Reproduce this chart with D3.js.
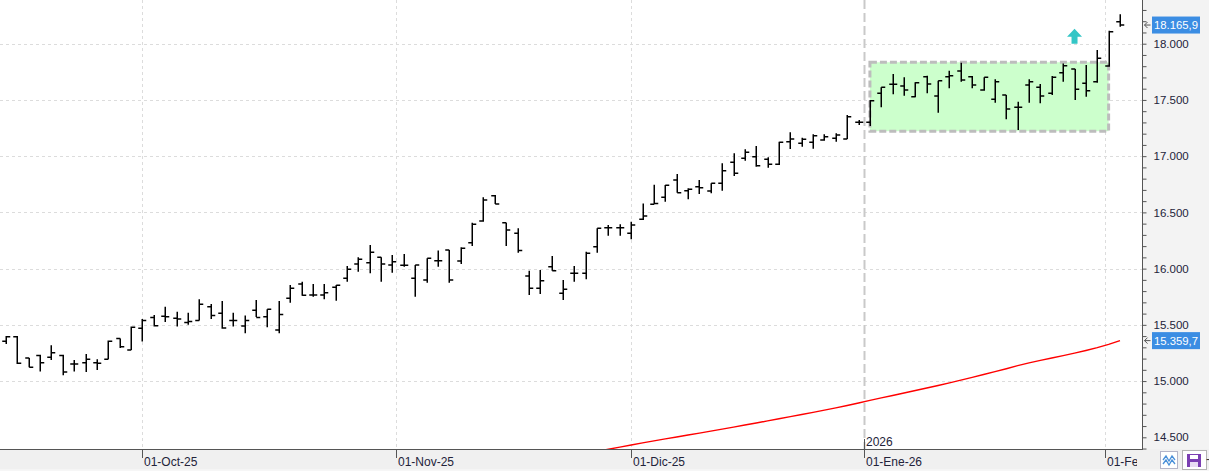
<!DOCTYPE html>
<html>
<head>
<meta charset="utf-8">
<script src="https://cdn.jsdelivr.net/npm/d3@7"></script>
<style>
    html, body { margin: 0; padding: 0; background: #fff; overflow: hidden; }
    svg { display: block; font-family: "Liberation Sans", Arial, sans-serif; }
</style>
</head>
<body>
<svg id="chart"></svg>
<script>
    'use strict';

    // daily sessions shown on the chart
    const dates = [
        '2025-09-15','2025-09-16','2025-09-17','2025-09-18','2025-09-19','2025-09-22','2025-09-23','2025-09-24','2025-09-25','2025-09-26',
        '2025-09-29','2025-09-30','2025-10-01','2025-10-02','2025-10-03','2025-10-06','2025-10-07','2025-10-08','2025-10-09','2025-10-10',
        '2025-10-13','2025-10-14','2025-10-15','2025-10-16','2025-10-17','2025-10-20','2025-10-21','2025-10-22','2025-10-23','2025-10-24',
        '2025-10-27','2025-10-28','2025-10-29','2025-10-30','2025-10-31','2025-11-03','2025-11-04','2025-11-05','2025-11-06','2025-11-07',
        '2025-11-10','2025-11-11','2025-11-12','2025-11-13','2025-11-14','2025-11-17','2025-11-18','2025-11-19','2025-11-20','2025-11-21',
        '2025-11-24','2025-11-25','2025-11-26','2025-11-27','2025-11-28','2025-12-01','2025-12-02','2025-12-03','2025-12-04','2025-12-05',
        '2025-12-08','2025-12-09','2025-12-10','2025-12-11','2025-12-12','2025-12-15','2025-12-16','2025-12-17','2025-12-18','2025-12-19',
        '2025-12-22','2025-12-23','2025-12-24','2025-12-29','2025-12-30','2025-12-31','2026-01-02','2026-01-05','2026-01-06','2026-01-07',
        '2026-01-08','2026-01-09','2026-01-12','2026-01-13','2026-01-14','2026-01-15','2026-01-16','2026-01-19','2026-01-20','2026-01-21',
        '2026-01-22','2026-01-23','2026-01-26','2026-01-27','2026-01-28','2026-01-29','2026-01-30','2026-02-02','2026-02-03'
    ];

    const opens = [
        15354,15395,15205,15228,15211,15228,15152,15163,15163,15193,
        15378,15276,15470,15565,15577,15559,15521,15539,15660,15604,
        15539,15490,15630,15571,15454,15737,15863,15765,15765,15834,
        15914,16041,16053,16101,16032,16029,15914,15899,16071,16165,
        16068,16231,16423,16648,16408,16314,15934,15825,16017,15781,
        15959,15959,16195,16364,16364,16314,16438,16572,16634,16788,
        16693,16728,16690,16759,16946,16981,16995,16972,16928,17129,
        17114,17123,17144,17159,17153,17301,17301,17559,17639,17624,
        17529,17707,17535,17707,17757,17707,17588,17506,17544,17434,
        17633,17612,17559,17742,17775,17648,17662,17802,18196
    ];

    const highs = [
        15401,15400,15205,15234,15318,15234,15187,15240,15193,15360,
        15378,15485,15551,15588,15660,15617,15608,15727,15686,15712,
        15608,15584,15721,15638,15712,15855,15884,15863,15863,15855,
        16023,16101,16210,16101,16122,16130,16032,16092,16160,16165,
        16190,16408,16634,16655,16408,16358,15982,15988,16112,15899,
        16023,16151,16358,16388,16394,16417,16580,16746,16744,16841,
        16714,16788,16759,16936,17025,17061,17090,16990,17129,17212,
        17164,17194,17194,17203,17366,17322,17499,17612,17731,17701,
        17657,17715,17671,17760,17831,17713,17701,17683,17544,17484,
        17683,17642,17713,17825,17775,17811,17944,18116,18261
    ];

    const lows = [
        15330,15152,15122,15086,15187,15051,15086,15081,15098,15193,
        15294,15276,15352,15485,15526,15485,15500,15539,15551,15465,
        15485,15425,15570,15479,15425,15697,15759,15750,15727,15714,
        15884,15973,15958,15884,15964,16017,15750,15875,16017,15875,
        16041,16201,16417,16575,16201,16142,15765,15774,15982,15721,
        15884,15905,16142,16293,16293,16261,16432,16572,16595,16675,
        16616,16664,16670,16693,16824,16960,16906,16897,16922,17064,
        17084,17066,17137,17129,17153,17277,17268,17434,17551,17538,
        17523,17559,17386,17603,17662,17603,17582,17475,17328,17233,
        17475,17470,17544,17662,17499,17529,17653,17795,18151
    ];

    const closes = [
        15395,15158,15122,15163,15252,15081,15152,15193,15158,15354,
        15306,15479,15539,15491,15571,15551,15530,15683,15583,15471,
        15539,15539,15565,15638,15591,15825,15763,15765,15786,15852,
        15994,16083,16146,16041,16061,16029,16032,16092,16071,15899,
        16181,16394,16610,16575,16344,16160,15825,15893,15982,15816,
        15959,16136,16358,16364,16364,16388,16468,16580,16741,16675,
        16705,16720,16759,16871,16848,17034,16915,16928,17123,17153,
        17150,17182,17173,17188,17351,17301,17493,17612,17639,17588,
        17653,17642,17671,17715,17677,17633,17701,17662,17419,17434,
        17662,17535,17701,17805,17594,17582,17870,18107,18165.9
    ];

    // moving average, only the visible part (starts at session index 52)
    const maStart = 52;
    const maValues = [
        14375,14394,14413,14432,14450,14468,14486,14503,14520,14537,
        14555,14573,14591,14609,14627,14646,14665,14684,14703,14722,
        14742,14762,14783,14805,14828,14850,14872,14894,14916,14938,
        14961,14984,15008,15033,15058,15084,15110,15137,15162,15184,
        15205,15226,15248,15272,15297,15326,15359.7
    ];

    // consolidation zone (session indexes and price bounds)
    const zoneSessions = [76, 97];
    const zonePrices = [17222, 17835];

    // buy signal arrow
    const signalSession = 94;
    const signalPrice = 18000;

    const shortMonths = ['Ene','Feb','Mar','Abr','May','Jun','Jul','Ago','Sep','Oct','Nov','Dic'];

    var width = 1209;
    var height = 471;
    var plotRight = 1142;
    var plotBottom = 449;

    var locale = d3.formatLocale({decimal: ',', thousands: '.', grouping: [3], currency: ['', ' €']});
    var fmtAxis = locale.format(',.0f');
    var fmtPrice = locale.format(',.1f');
    var timeLocale = d3.timeFormatLocale({
        dateTime: '%A, %e de %B de %Y, %X', date: '%d/%m/%Y', time: '%H:%M:%S',
        periods: ['AM', 'PM'],
        days: ['domingo','lunes','martes','miércoles','jueves','viernes','sábado'],
        shortDays: ['dom','lun','mar','mié','jue','vie','sáb'],
        months: ['enero','febrero','marzo','abril','mayo','junio','julio','agosto','septiembre','octubre','noviembre','diciembre'],
        shortMonths: shortMonths
    });
    var fmtDate = timeLocale.format('%d-%b-%y');
    var parse = d3.timeParse('%Y-%m-%d');
    var times = dates.map(function (d) { return parse(d).getTime(); });

    var svg = d3.select('#chart').attr('width', width).attr('height', height);

    var x = d3.scaleLinear().domain([0, dates.length - 1]).range([6, 1120]);
    var y = d3.scaleLinear().domain([14500, 18000]).range([437.3, 43.7]);

    // backgrounds
    svg.append('rect').attr('width', width).attr('height', height).attr('fill', '#fff');
    svg.append('rect').attr('x', plotRight).attr('y', 0).attr('width', width - plotRight).attr('height', plotBottom).attr('fill', '#f3f3f3');
    svg.append('rect').attr('x', 0).attr('y', plotBottom).attr('width', width).attr('height', height - plotBottom).attr('fill', '#f0f0f0');
    svg.append('line').attr('x1', 0).attr('x2', width).attr('y1', 470).attr('y2', 470).attr('stroke', '#fbfbfb');

    var defs = svg.append('defs');
    defs.append('clipPath').attr('id', 'plotClip')
        .append('rect').attr('x', 0).attr('y', 0).attr('width', plotRight).attr('height', plotBottom);
    defs.append('clipPath').attr('id', 'dateClip')
        .append('rect').attr('x', 0).attr('y', plotBottom).attr('width', 1137).attr('height', height - plotBottom);

    var plot = svg.append('g').attr('clip-path', 'url(#plotClip)');

    // session position of a calendar day (interpolated when the market is closed)
    function sessionOf(t) {
        var i = d3.bisectRight(times, t) - 1;
        if (i < 0) return 0;
        if (times[i] === t || i === times.length - 1) return i;
        return i + (t - times[i]) / (times[i + 1] - times[i]);
    }

    var monthStarts = d3.timeMonth.range(parse(dates[0]), d3.timeDay.offset(parse(dates[dates.length - 1]), 1));
    var monthTicks = monthStarts.map(function (m) {
        return {date: m, pos: Math.round(x(sessionOf(m.getTime()))) + 0.5, yearStart: m.getMonth() === 0};
    });

    // horizontal grid
    plot.append('g').selectAll('line')
        .data(d3.range(15000, 18001, 500))
        .join('line')
        .attr('x1', 0).attr('x2', plotRight)
        .attr('y1', function (d) { return Math.round(y(d)) + 0.5; })
        .attr('y2', function (d) { return Math.round(y(d)) + 0.5; })
        .attr('stroke', '#dcdcdc')
        .attr('stroke-dasharray', '3,3');

    // vertical month grid
    plot.append('g').selectAll('line')
        .data(monthTicks)
        .join('line')
        .attr('x1', function (d) { return d.pos; })
        .attr('x2', function (d) { return d.pos; })
        .attr('y1', 0).attr('y2', plotBottom)
        .attr('stroke', function (d) { return d.yearStart ? '#c9c9c9' : '#dcdcdc'; })
        .attr('stroke-width', function (d) { return d.yearStart ? 2 : 1; })
        .attr('stroke-dasharray', function (d) { return d.yearStart ? '9,4' : '3,3'; });

    // consolidation box
    plot.append('rect')
        .attr('x', x(zoneSessions[0]))
        .attr('y', y(zonePrices[1]))
        .attr('width', x(zoneSessions[1]) - x(zoneSessions[0]))
        .attr('height', y(zonePrices[0]) - y(zonePrices[1]))
        .attr('fill', '#ccffcc')
        .attr('stroke', '#bdbdbd')
        .attr('stroke-width', 3)
        .attr('stroke-dasharray', '7,3');

    // moving average
    var maLine = d3.line()
        .x(function (d, i) { return x(maStart + i); })
        .y(function (d) { return y(d); });

    plot.append('path')
        .datum(maValues)
        .attr('d', maLine)
        .attr('fill', 'none')
        .attr('stroke', '#ff0000')
        .attr('stroke-width', 1.4);

    // OHLC bars
    plot.append('g').selectAll('path')
        .data(dates.map(function (d, i) { return i; }))
        .join('path')
        .attr('d', function (i) {
            var cx = Math.round(x(i)) + 0.25;
            return 'M' + cx + ',' + y(highs[i]) + 'V' + y(lows[i]) +
                'M' + (cx - 4) + ',' + y(opens[i]) + 'H' + cx +
                'M' + cx + ',' + y(closes[i]) + 'H' + (cx + 4);
        })
        .attr('fill', 'none')
        .attr('stroke', '#000')
        .attr('stroke-width', 1.5);

    // signal arrow
    var ax = x(signalSession);
    var ay = y(signalPrice);
    plot.append('path')
        .attr('d', 'M' + (ax - 3) + ',' + ay + 'V' + (ay - 7) + 'H' + (ax - 7.5) + 'L' + ax + ',' + (ay - 15) +
            'L' + (ax + 7.5) + ',' + (ay - 7) + 'H' + (ax + 3) + 'V' + ay + 'Z')
        .attr('fill', '#33c6c6');

    // right price axis
    var yAxis = d3.axisRight(y)
        .tickValues(d3.range(14400, 18301, 100))
        .tickSize(4)
        .tickPadding(7)
        .tickFormat(function (d) { return d % 500 === 0 ? fmtAxis(d) : ''; });

    svg.append('g')
        .attr('transform', 'translate(' + (plotRight + 0.5) + ',0)')
        .call(yAxis)
        .call(function (g) {
            g.select('.domain').remove();
            g.selectAll('.tick line').attr('stroke', '#555');
            g.selectAll('.tick text').attr('fill', '#23233a').attr('font-size', '11.5px');
        });

    svg.append('line')
        .attr('x1', plotRight + 0.5).attr('x2', plotRight + 0.5)
        .attr('y1', 0).attr('y2', plotBottom)
        .attr('stroke', '#555');

    // bottom date axis
    svg.append('line')
        .attr('x1', 0).attr('x2', plotRight + 1)
        .attr('y1', plotBottom + 0.5).attr('y2', plotBottom + 0.5)
        .attr('stroke', '#555');

    var dateAxis = svg.append('g').attr('clip-path', 'url(#dateClip)');
    dateAxis.selectAll('line')
        .data(monthTicks)
        .join('line')
        .attr('x1', function (d) { return d.pos; })
        .attr('x2', function (d) { return d.pos; })
        .attr('y1', plotBottom).attr('y2', 458)
        .attr('stroke', '#555');
    dateAxis.selectAll('text')
        .data(monthTicks)
        .join('text')
        .attr('x', function (d) { return d.pos + 1.5; })
        .attr('y', 466)
        .attr('font-size', '12px')
        .attr('fill', '#23233a')
        .text(function (d) { return fmtDate(d.date); });

    // year marker
    var years = monthTicks.filter(function (d) { return d.yearStart; });
    svg.append('g').selectAll('line')
        .data(years)
        .join('line')
        .attr('x1', function (d) { return d.pos; })
        .attr('x2', function (d) { return d.pos; })
        .attr('y1', 439).attr('y2', plotBottom)
        .attr('stroke', '#555');
    svg.append('g').selectAll('text')
        .data(years)
        .join('text')
        .attr('x', function (d) { return d.pos + 1.5; })
        .attr('y', 446)
        .attr('font-size', '12px')
        .attr('fill', '#23233a')
        .text(function (d) { return d.date.getFullYear(); });

    // last value labels
    var lastLabels = [closes[closes.length - 1], maValues[maValues.length - 1]];
    var labels = svg.append('g').selectAll('g')
        .data(lastLabels)
        .join('g')
        .attr('transform', function (d) { return 'translate(0,' + y(d) + ')'; });
    labels.append('rect')
        .attr('x', 1152).attr('y', -8.5)
        .attr('width', 48).attr('height', 17)
        .attr('fill', '#3b8de3');
    labels.append('text')
        .attr('x', 1154).attr('y', 4)
        .attr('font-size', '11.3px')
        .attr('fill', '#fff')
        .text(function (d) { return fmtPrice(d); });
    labels.append('path')
        .attr('d', 'M1150.5,0H1144.5M1147.5,-3L1144.5,0L1147.5,3')
        .attr('fill', 'none')
        .attr('stroke', '#555')
        .attr('stroke-width', 1);

    // toolbar buttons, bottom right
    var tools = svg.append('g');
    tools.append('rect').attr('x', 1160.5).attr('y', 451.5).attr('width', 17).attr('height', 17)
        .attr('fill', '#fff').attr('stroke', '#b4b4c8');
    tools.append('path')
        .attr('d', 'M1163,460L1166,456L1169,461L1172,456L1175,460M1163,464L1166,460L1169,465L1172,460L1175,464')
        .attr('fill', 'none').attr('stroke', '#4a90d9').attr('stroke-width', 1.3);
    tools.append('rect').attr('x', 1182.5).attr('y', 450.5).attr('width', 24).attr('height', 19)
        .attr('fill', '#fff').attr('stroke', '#b4b4b4');
    tools.append('rect').attr('x', 1187).attr('y', 454).attr('width', 14).attr('height', 13)
        .attr('fill', '#7b3fb3');
    tools.append('rect').attr('x', 1190).attr('y', 455).attr('width', 8).attr('height', 4).attr('fill', '#fff');
    tools.append('rect').attr('x', 1190).attr('y', 462).attr('width', 8).attr('height', 5).attr('fill', '#e8dcf3');
    tools.append('text').attr('x', 1206).attr('y', 463).attr('font-size', '12px').attr('fill', '#333').text('-');
</script>
</body>
</html>
